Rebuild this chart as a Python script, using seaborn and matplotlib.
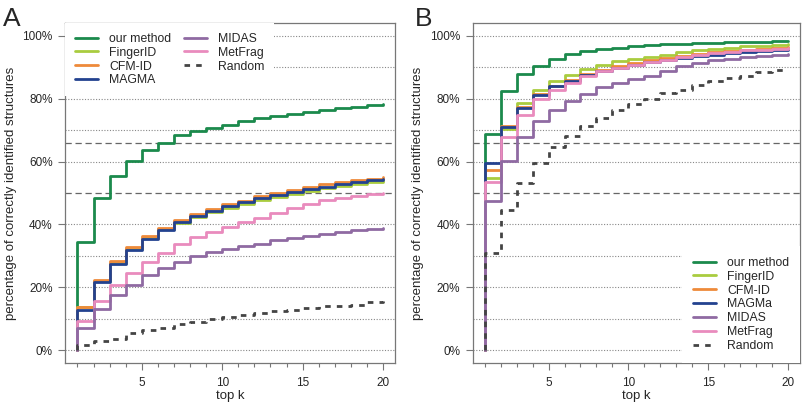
import numpy as np
import pandas as pd
import matplotlib
matplotlib.use('Agg')
import matplotlib.pyplot as plt
from matplotlib.lines import Line2D
from matplotlib.ticker import FixedLocator, FuncFormatter
import seaborn as sns

# top k ranks
ks = list(range(1, 21))

# panel A values (percent)
a_our = [34.3, 48.4, 55.3, 60.1, 63.6, 66.0, 68.3, 69.6, 70.6, 71.7,
         72.8, 73.8, 74.6, 75.0, 75.6, 76.4, 76.9, 77.3, 77.9, 78.3]
a_fingerid = [13.9, 22.0, 27.8, 32.2, 35.7, 38.5, 40.6, 42.5, 44.0, 45.3,
              46.5, 47.7, 48.8, 49.8, 50.7, 51.5, 52.2, 52.8, 53.4, 53.8]
a_cfmid = [13.9, 22.5, 28.3, 32.7, 36.2, 38.9, 41.3, 43.4, 45.0, 46.4,
           47.6, 48.9, 50.0, 51.0, 51.9, 52.7, 53.4, 54.0, 54.6, 55.1]
a_magma = [12.9, 21.6, 27.4, 31.8, 35.4, 38.3, 40.7, 42.8, 44.4, 45.8,
           47.0, 48.3, 49.4, 50.4, 51.3, 52.0, 52.8, 53.4, 54.0, 54.5]
a_midas = [7.0, 13.2, 17.7, 20.9, 23.8, 26.0, 28.1, 29.9, 31.1, 32.1,
           33.1, 33.9, 34.9, 35.8, 36.4, 37.1, 37.7, 38.2, 38.7, 39.0]
a_metfrag = [9.2, 15.8, 20.7, 24.6, 28.0, 30.9, 33.8, 35.9, 37.6, 39.3,
             40.8, 42.2, 43.6, 45.1, 46.5, 47.7, 48.4, 49.0, 49.6, 50.1]
a_random = [1.6, 2.9, 3.6, 5.5, 6.6, 7.1, 8.2, 8.9, 9.8, 10.6,
            11.3, 11.9, 12.4, 12.9, 13.5, 14.0, 14.2, 14.5, 15.3, 15.6]

# panel B values (percent)
b_our = [68.7, 82.3, 87.8, 90.5, 92.6, 94.1, 95.0, 95.8, 96.2, 96.6,
         96.9, 97.2, 97.4, 97.6, 97.8, 97.9, 98.0, 98.1, 98.2, 98.4]
b_fingerid = [54.7, 70.4, 78.6, 82.8, 85.5, 87.6, 89.4, 90.8, 91.8, 92.5,
              93.2, 94.0, 94.7, 95.3, 95.8, 96.2, 96.6, 96.8, 97.0, 97.2]
b_cfmid = [57.4, 71.2, 77.3, 81.6, 84.1, 86.0, 87.9, 89.2, 90.3, 91.2,
           92.2, 92.9, 93.6, 94.3, 94.8, 95.2, 95.6, 95.9, 96.2, 96.4]
b_magma = [59.5, 71.0, 77.0, 81.3, 84.0, 85.5, 87.5, 88.8, 89.8, 90.6,
           91.5, 92.2, 92.9, 93.5, 94.0, 94.4, 94.8, 95.1, 95.4, 95.6]
b_midas = [47.3, 60.1, 67.8, 72.8, 76.3, 79.1, 81.6, 83.6, 85.0, 86.1,
           87.3, 88.9, 90.3, 91.3, 92.2, 92.7, 93.2, 93.6, 94.0, 94.3]
b_metfrag = [53.4, 67.8, 74.9, 79.9, 82.6, 85.0, 87.1, 88.7, 89.7, 90.6,
             91.6, 92.4, 93.2, 93.9, 94.5, 94.9, 95.3, 95.6, 95.9, 96.1]
b_random = [30.9, 44.6, 53.2, 59.5, 64.5, 68.2, 71.4, 73.9, 76.5, 78.2,
            79.8, 81.8, 82.8, 84.4, 85.5, 86.5, 87.3, 88.3, 89.0, 89.2]

legend_a = ['our method', 'FingerID', 'CFM-ID', 'MAGMA', 'MIDAS', 'MetFrag', 'Random']
legend_b = ['our method', 'FingerID', 'CFM-ID', 'MAGMa', 'MIDAS', 'MetFrag', 'Random']
colors = ['#1b8a4c', '#a9cc3f', '#ee8a3a', '#23428f', '#8f6aa2', '#e98bbd', '#444444']
# draw order (index into legend lists): later ones sit on top
draw_order = [0, 1, 2, 3, 5, 4, 6]

sns.set_style('white')
plt.rcParams['font.family'] = ['Liberation Sans', 'DejaVu Sans']


def make_frame(values, labels):
    rows = []
    for lab, vals in zip(labels, values):
        # start each curve at 0 on k=1, like the original step plot
        rows.append({'method': lab, 'k': ks[0], 'pct': 0.0})
        for k, v in zip(ks, vals):
            rows.append({'method': lab, 'k': k, 'pct': v})
    return pd.DataFrame(rows)


def draw_panel(ax, df, labels, letter):
    frame_col = '#777777'
    for y in range(0, 101, 10):
        if y == 50:
            continue
        ax.axhline(y, color='#888888', lw=0.8, ls=(0, (1, 1.5)), zorder=0)
    for y in [50, 66]:
        ax.axhline(y, color='#666666', lw=0.9, ls=(0, (5, 3)), zorder=0)

    for i in draw_order:
        sub = df[df['method'] == labels[i]]
        sns.lineplot(data=sub, x='k', y='pct', ax=ax, color=colors[i],
                     estimator=None, sort=False, drawstyle='steps-post',
                     lw=2.0, ls=(0, (2, 2.2)) if i == 6 else '-', zorder=3)

    ax.set_xlim(0.24, 20.76)
    ax.set_ylim(-4, 104)
    ax.xaxis.set_major_locator(FixedLocator([5, 10, 15, 20]))
    ax.xaxis.set_minor_locator(FixedLocator(ks))
    ax.yaxis.set_major_locator(FixedLocator([0, 20, 40, 60, 80, 100]))
    ax.yaxis.set_major_formatter(FuncFormatter(lambda v, p: '%d%%' % v))
    ax.tick_params(axis='both', which='both', direction='out', color=frame_col,
                   labelsize=8.5, length=5, width=0.8, pad=4,
                   bottom=True, left=True)
    ax.tick_params(axis='x', which='minor', length=3)
    ax.tick_params(axis='x', which='major', pad=5)
    for s in ax.spines.values():
        s.set_color(frame_col)
        s.set_linewidth(0.9)
    ax.set_xlabel('top k', fontsize=9.5, labelpad=1)
    ax.set_ylabel('percentage of correctly identified structures', fontsize=9.5)
    ax.grid(False)
    ax.text(-0.19, 1.012, letter, transform=ax.transAxes, fontsize=19,
            ha='left', va='center')


fig = plt.figure(figsize=(8.05, 4.05), dpi=100)
ax_a = fig.add_axes([0.081, 0.104, 0.410, 0.839])
ax_b = fig.add_axes([0.587, 0.104, 0.407, 0.839])

df_a = make_frame([a_our, a_fingerid, a_cfmid, a_magma, a_midas, a_metfrag, a_random], legend_a)
df_b = make_frame([b_our, b_fingerid, b_cfmid, b_magma, b_midas, b_metfrag, b_random], legend_b)

draw_panel(ax_a, df_a, legend_a, 'A')
draw_panel(ax_b, df_b, legend_b, 'B')
ax_b.texts[0].set_x(-0.175)


def handles_for(labels):
    hs = []
    for i, lab in enumerate(labels):
        hs.append(Line2D([], [], color=colors[i], lw=2.0,
                         ls=(0, (2, 2.2)) if i == 6 else '-'))
    return hs


leg_a = ax_a.legend(handles_for(legend_a), legend_a, ncol=2, loc='upper left',
                    bbox_to_anchor=(0.0, 1.0), borderaxespad=0.0, borderpad=0.8,
                    fontsize=8.8, handlelength=1.9, handletextpad=0.9,
                    labelspacing=0.15, columnspacing=1.0, frameon=True,
                    fancybox=False)
leg_b = ax_b.legend(handles_for(legend_b), legend_b, ncol=1, loc='lower right',
                    bbox_to_anchor=(1.0, 0.0), borderaxespad=0.0, borderpad=0.9,
                    fontsize=8.8, handlelength=1.9, handletextpad=0.9,
                    labelspacing=0.15, frameon=True, fancybox=False)
for leg in [leg_a, leg_b]:
    fr = leg.get_frame()
    fr.set_facecolor('white')
    fr.set_edgecolor('white')
    fr.set_linewidth(0)
    fr.set_alpha(1)

fig.savefig('out.png', dpi=100)
